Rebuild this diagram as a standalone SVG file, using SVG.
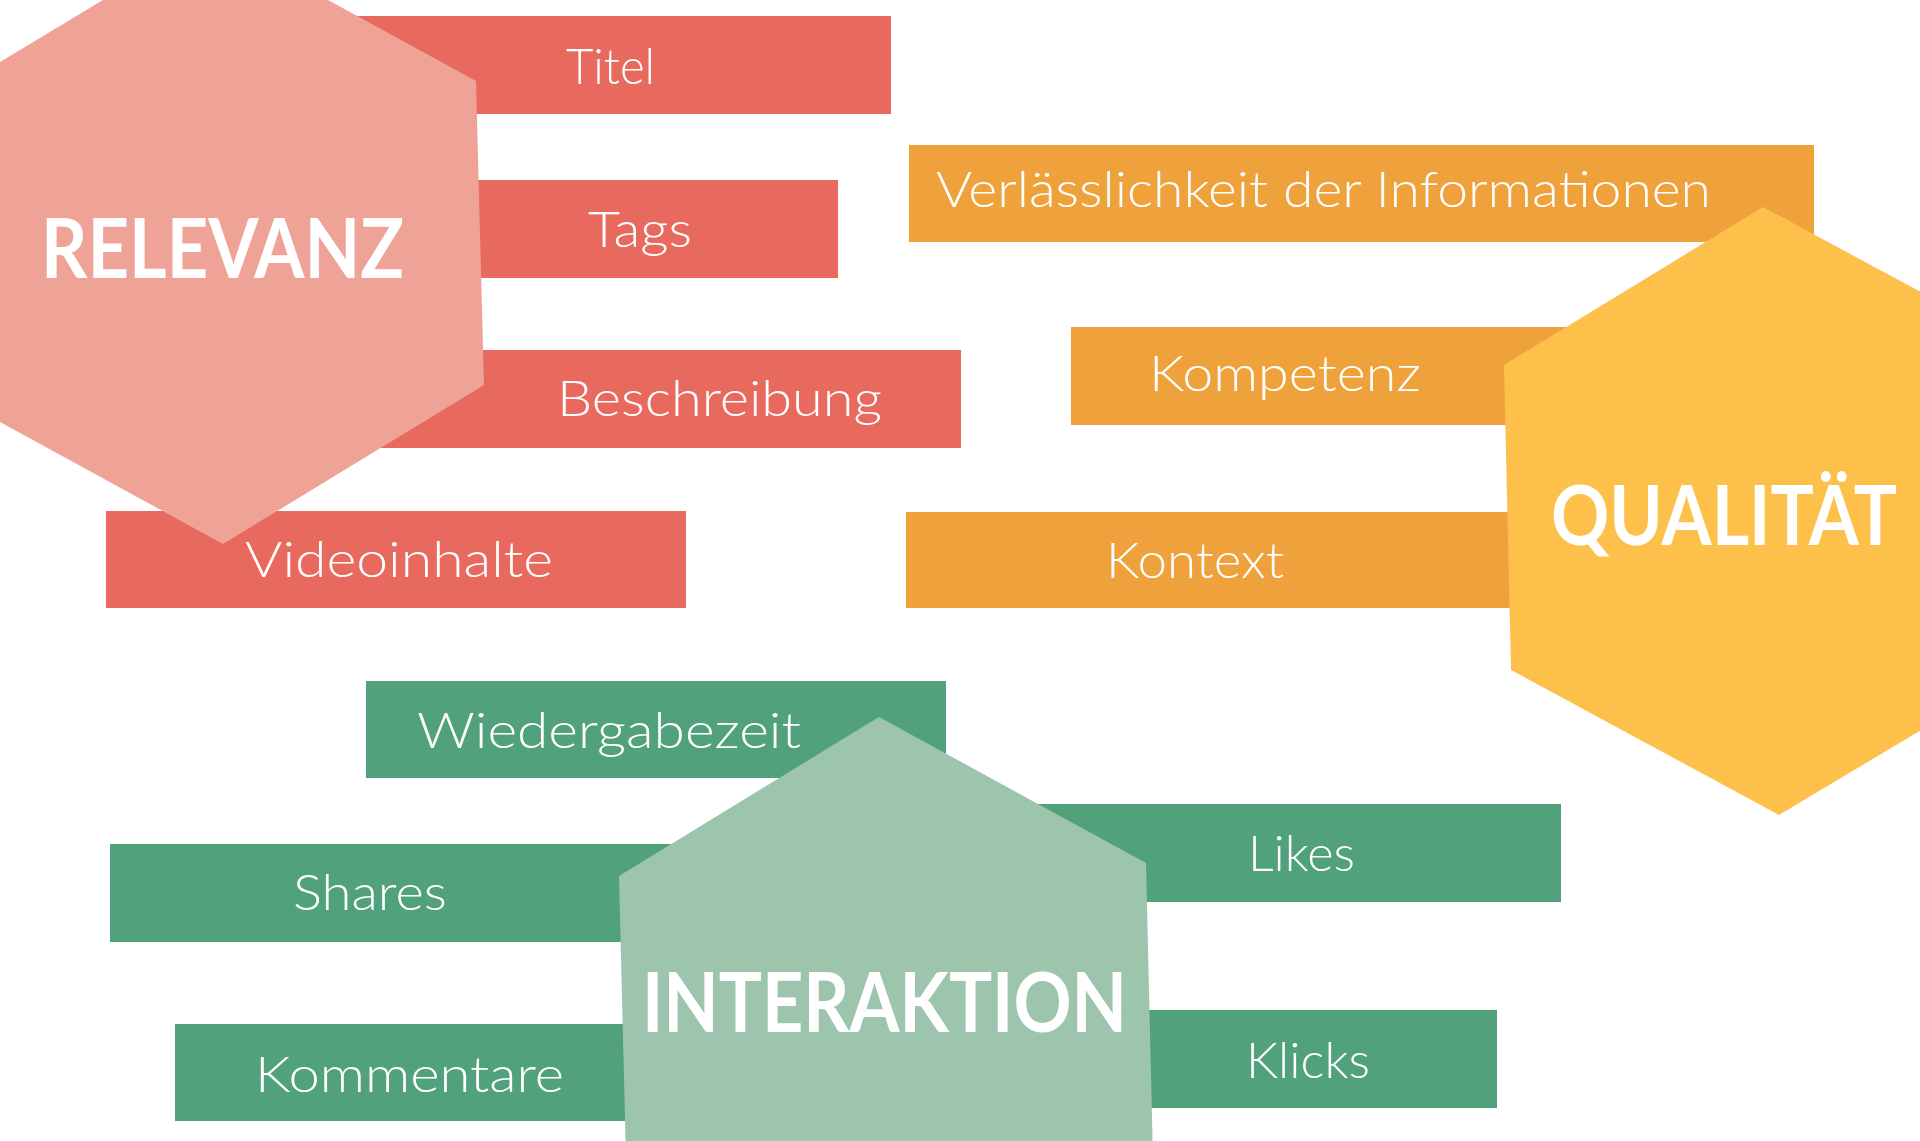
<svg xmlns="http://www.w3.org/2000/svg" width="1920" height="1141" viewBox="0 0 1920 1141">
<style>
.lbl{font-family:"Lato","Liberation Sans",sans-serif;font-weight:300;font-size:50px;fill:#ffffff}
.ttl{font-family:"Lato","Liberation Sans",sans-serif;font-weight:700;font-size:82px;fill:#ffffff}
.red{fill:#E8695E}
.org{fill:#EFA23C}
.grn{fill:#51A17C}
</style>
<rect width="1920" height="1141" fill="#ffffff"/>
<g id="connectors"/>
<g id="titel"><rect class="red" x="300" y="16" width="591" height="98"/><text class="lbl" x="566" y="84" textLength="89" lengthAdjust="spacingAndGlyphs">Titel</text></g>
<g id="tags"><rect class="red" x="400" y="180" width="438" height="98"/><text class="lbl" x="588" y="247" textLength="104" lengthAdjust="spacingAndGlyphs">Tags</text></g>
<g id="beschreibung"><rect class="red" x="370" y="350" width="591" height="98"/><text class="lbl" x="557" y="416" textLength="325" lengthAdjust="spacingAndGlyphs">Beschreibung</text></g>
<g id="videoinhalte"><rect class="red" x="106" y="511" width="580" height="97"/><text class="lbl" x="245" y="577" textLength="308" lengthAdjust="spacingAndGlyphs">Videoinhalte</text></g>
<g id="verlaesslichkeit"><rect class="org" x="909" y="145" width="905" height="97"/><text class="lbl" x="936" y="207" textLength="775" lengthAdjust="spacingAndGlyphs">Verlässlichkeit der Informationen</text></g>
<g id="kompetenz"><rect class="org" x="1071" y="327" width="509" height="98"/><text class="lbl" x="1149" y="391" textLength="272" lengthAdjust="spacingAndGlyphs">Kompetenz</text></g>
<g id="kontext"><rect class="org" x="906" y="512" width="614" height="96"/><text class="lbl" x="1106" y="578" textLength="178" lengthAdjust="spacingAndGlyphs">Kontext</text></g>
<g id="wiedergabezeit"><rect class="grn" x="366" y="681" width="580" height="97"/><text class="lbl" x="417" y="748" textLength="384" lengthAdjust="spacingAndGlyphs">Wiedergabezeit</text></g>
<g id="shares"><rect class="grn" x="110" y="844" width="590" height="98"/><text class="lbl" x="293" y="910" textLength="154" lengthAdjust="spacingAndGlyphs">Shares</text></g>
<g id="kommentare"><rect class="grn" x="175" y="1024" width="465" height="97"/><text class="lbl" x="255" y="1092" textLength="309" lengthAdjust="spacingAndGlyphs">Kommentare</text></g>
<g id="likes"><rect class="grn" x="1035" y="804" width="526" height="98"/><text class="lbl" x="1248" y="871" textLength="107" lengthAdjust="spacingAndGlyphs">Likes</text></g>
<g id="klicks"><rect class="grn" x="1140" y="1010" width="357" height="98"/><text class="lbl" x="1246" y="1078" textLength="124" lengthAdjust="spacingAndGlyphs">Klicks</text></g>
<g id="relevanz"><polygon fill="#EEA396" points="0,62 103,0 328,0 476,81 484,385 223,544 0,422"/><text class="ttl" x="41" y="278" textLength="363" lengthAdjust="spacingAndGlyphs">RELEVANZ</text></g>
<g id="qualitaet"><polygon fill="#FDC14B" points="1763,207 2023,347 2030,665 1779,815 1511,670 1504,365"/><text class="ttl" x="1551" y="545" textLength="346" lengthAdjust="spacingAndGlyphs">QUALITÄT</text></g>
<g id="interaktion"><polygon fill="#9DC5AE" points="879,717 1146,863 1153,1160 626,1160 619,876"/><text class="ttl" x="642" y="1032" textLength="485" lengthAdjust="spacingAndGlyphs">INTERAKTION</text></g>
</svg>
